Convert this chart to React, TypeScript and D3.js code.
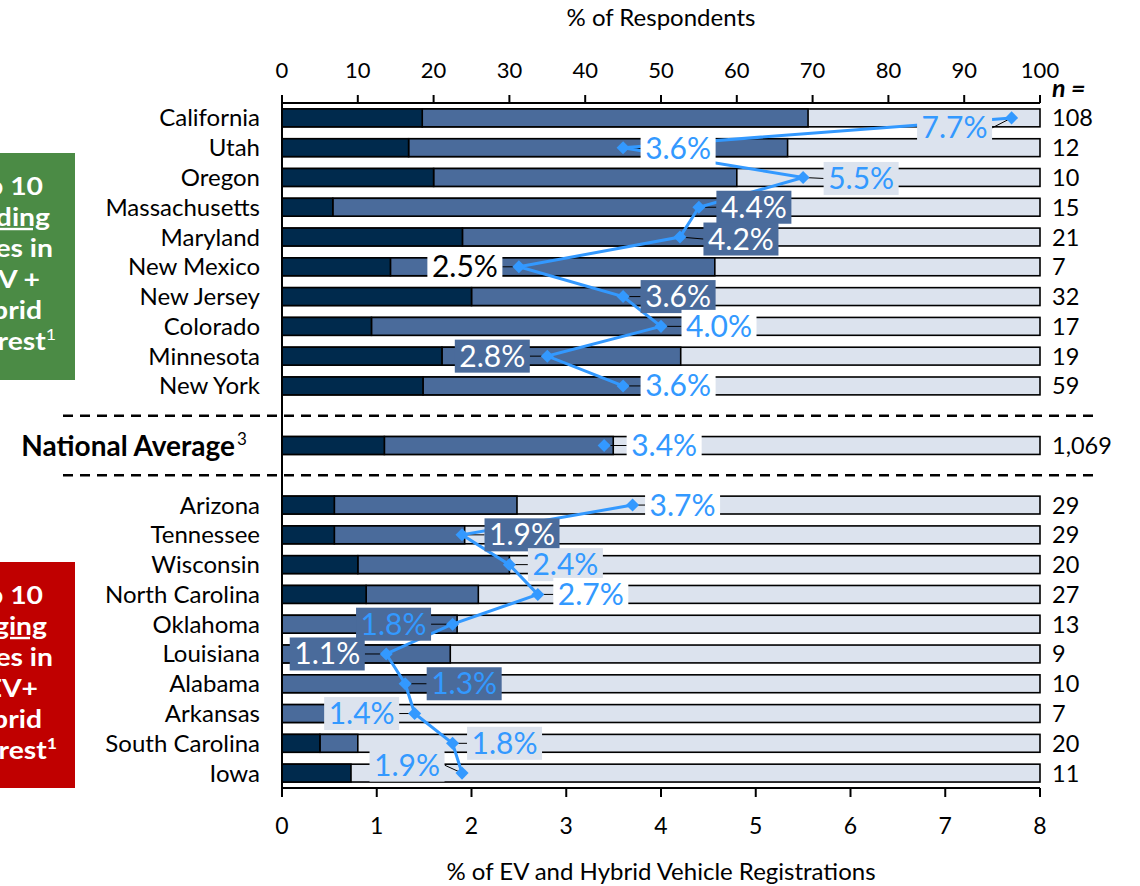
import React from "react";
import * as d3 from "d3";

const topStates = ["California","Utah","Oregon","Massachusetts","Maryland","New Mexico","New Jersey","Colorado","Minnesota","New York"];
const bottomStates = ["Arizona","Tennessee","Wisconsin","North Carolina","Oklahoma","Louisiana","Alabama","Arkansas","South Carolina","Iowa"];
const nationalLabel = "National Average";

// % of respondents, three stacked shares (dark / medium / rest)
const topDark = [18.5, 16.7, 20.0, 6.7, 23.8, 14.3, 25.0, 11.8, 21.1, 18.6];
const topMedium = [50.9, 50.0, 40.0, 53.3, 38.1, 42.8, 28.1, 41.1, 31.5, 28.9];
const nationalDark = 13.5;
const nationalMedium = 30.2;
const bottomDark = [6.9, 6.9, 10.0, 11.1, 0, 0, 0, 0, 5.0, 9.1];
const bottomMedium = [24.1, 17.2, 20.0, 14.8, 23.1, 22.2, 20.0, 14.3, 5.0, 0];

// % of EV and hybrid vehicle registrations
const topEv = [7.7, 3.6, 5.5, 4.4, 4.2, 2.5, 3.6, 4.0, 2.8, 3.6];
const nationalEv = 3.4;
const bottomEv = [3.7, 1.9, 2.4, 2.7, 1.8, 1.1, 1.3, 1.4, 1.8, 1.9];

const topN = ["108","12","10","15","21","7","32","17","19","59"];
const nationalN = "1,069";
const bottomN = ["29","29","20","27","13","9","10","7","20","11"];

const pctTicks = [0,10,20,30,40,50,60,70,80,90,100];
const evTicks = [0,1,2,3,4,5,6,7,8];

// side panels (text lines, partly cut off by the page edge)
const leadingLines = ["Top 10", "Leading", "States in", "EV +", "Hybrid", "Interest"];
const laggingLines = ["Top 10", "Lagging", "States in", "EV+", "Hybrid", "Interest"];
const leadingRightEdges = [43, 50, 53, 40, 42, 56];
const laggingRightEdges = [43, 47, 53, 38, 42, 57];

// label layout: horizontal offset of box centre from marker, vertical offset, style
const topLabelLayout = [
  { dx: -57, dy: 10, s: "light" }, { dx: 55, dy: 1, s: "white" }, { dx: 58, dy: 1, s: "light" },
  { dx: 55, dy: 0, s: "medium" }, { dx: 61, dy: 2, s: "medium" }, { dx: -54, dy: 0, s: "black" },
  { dx: 55, dy: 0, s: "medium" }, { dx: 58, dy: 0, s: "white" }, { dx: -55, dy: 0, s: "medium" },
  { dx: 55, dy: 0, s: "white" },
];
const nationalLabelLayout = { dx: 60, dy: 0, s: "white" };
const bottomLabelLayout = [
  { dx: 50, dy: 0, s: "white" }, { dx: 60, dy: 0, s: "medium" }, { dx: 56, dy: 0, s: "light" },
  { dx: 53, dy: 0, s: "white" }, { dx: -59, dy: 0, s: "mediumBlue" }, { dx: -59, dy: 0, s: "medium" },
  { dx: 59, dy: 0, s: "mediumBlue" }, { dx: -53, dy: 0, s: "light" }, { dx: 52, dy: 0, s: "light" },
  { dx: -55, dy: -8, s: "light" },
];

const C = {
  dark: "#002A4D",
  medium: "#4A6B9B",
  light: "#DCE3EE",
  blue: "#3399FF",
  green: "#4B8B45",
  red: "#C00000",
};
const labelStyles: Record<string, { bg: string; fg: string }> = {
  light: { bg: C.light, fg: C.blue },
  white: { bg: "#FFFFFF", fg: C.blue },
  medium: { bg: C.medium, fg: "#FFFFFF" },
  mediumBlue: { bg: C.medium, fg: C.blue },
  black: { bg: "#FFFFFF", fg: "#000000" },
};

const FONT = "Lato, 'Open Sans', sans-serif";

export default function App() {
  const W = 1140, H = 886;
  const slots = [...topStates, "gap1", nationalLabel, "gap2", ...bottomStates];
  const y = d3.scaleBand<string>().domain(slots).range([103, 788]).paddingInner(0.4).paddingOuter(0.2);
  const xP = d3.scaleLinear().domain([0, 100]).range([282, 1040]);
  const xE = d3.scaleLinear().domain([0, 8]).range([282, 1040]);
  const bw = y.bandwidth();
  const cy = (k: string) => (y(k) as number) + bw / 2;

  const rows = [
    ...topStates.map((s, i) => ({ name: s, dark: topDark[i], med: topMedium[i], ev: topEv[i], n: topN[i], lab: topLabelLayout[i], group: "top" })),
    { name: nationalLabel, dark: nationalDark, med: nationalMedium, ev: nationalEv, n: nationalN, lab: nationalLabelLayout, group: "nat" },
    ...bottomStates.map((s, i) => ({ name: s, dark: bottomDark[i], med: bottomMedium[i], ev: bottomEv[i], n: bottomN[i], lab: bottomLabelLayout[i], group: "bot" })),
  ];

  const line = d3.line<any>().x(d => xE(d.ev)).y(d => cy(d.name));
  const diamond = d3.symbol().type(d3.symbolSquare).size(85);
  const boxW = 75, boxH = 33;

  const sideBox = (y0: number, h: number, fill: string, lines: string[], edges: number[], supBold: boolean) => (
    <g>
      <rect x={0} y={y0} width={75} height={h} fill={fill} />
      {lines.map((t, i) => (
        <text key={i} transform={`translate(${edges[i]},${y0 + 42 + i * 31}) scale(1.18,1)`} textAnchor="end" fill="#fff" fontFamily={FONT}
          fontWeight={700} fontSize={24} textDecoration={i === 1 ? "underline" : undefined}>
          {t}
          {i === 5 && <tspan fontSize={15} dy={-10} fontWeight={supBold ? 700 : 400}>1</tspan>}
        </text>
      ))}
    </g>
  );

  return (
    <svg width={W} height={H} style={{ display: "block", position: "absolute", left: 0, top: 0, background: "#fff" }}>
      {/* titles */}
      <text x={661} y={26} textAnchor="middle" fontFamily={FONT} fontSize={24} fill="#000">% of Respondents</text>
      <text x={661} y={880} textAnchor="middle" fontFamily={FONT} fontSize={24} fill="#000">% of EV and Hybrid Vehicle Registrations</text>

      {/* side panels */}
      {sideBox(153, 227, C.green, leadingLines, leadingRightEdges, false)}
      {sideBox(562, 226, C.red, laggingLines, laggingRightEdges, true)}

      {/* bars */}
      {rows.map(r => {
        const yy = y(r.name) as number;
        return (
          <g key={r.name}>
            <rect x={xP(0)} y={yy} width={xP(100) - xP(0)} height={bw} fill={C.light} stroke="#000" strokeWidth={1.6} />
            {r.med > 0 && <rect x={xP(r.dark)} y={yy} width={xP(r.dark + r.med) - xP(r.dark)} height={bw} fill={C.medium} stroke="#000" strokeWidth={1.6} />}
            {r.dark > 0 && <rect x={xP(0)} y={yy} width={xP(r.dark) - xP(0)} height={bw} fill={C.dark} stroke="#000" strokeWidth={1.6} />}
          </g>
        );
      })}

      {/* dashed separators */}
      {["gap1", "gap2"].map(g => (
        <line key={g} x1={63} x2={1100} y1={cy(g)} y2={cy(g)} stroke="#000" strokeWidth={2.5} strokeDasharray="10,7" />
      ))}

      {/* top axis */}
      <line x1={xP(0)} x2={xP(100)} y1={103} y2={103} stroke="#000" strokeWidth={2} />
      {pctTicks.map(t => (
        <g key={t}>
          <line x1={xP(t)} x2={xP(t)} y1={95} y2={103} stroke="#000" strokeWidth={2} />
          <text x={xP(t)} y={78} textAnchor="middle" fontFamily={FONT} fontSize={22} fill="#000">{t}</text>
        </g>
      ))}
      {/* bottom axis */}
      <line x1={xE(0)} x2={xE(8)} y1={788} y2={788} stroke="#000" strokeWidth={2} />
      {evTicks.map(t => (
        <g key={t}>
          <line x1={xE(t)} x2={xE(t)} y1={788} y2={797} stroke="#000" strokeWidth={2} />
          <text x={xE(t)} y={834} textAnchor="middle" fontFamily={FONT} fontSize={23} fill="#000">{t}</text>
        </g>
      ))}
      {/* left axis */}
      <line x1={xP(0)} x2={xP(0)} y1={95} y2={797} stroke="#000" strokeWidth={2} />

      {/* category labels */}
      {rows.map(r => r.group === "nat" ? (
        <text key={r.name} x={235} y={cy(r.name) + 10} textAnchor="end" fontFamily={FONT} fontWeight={700} fontSize={28} fill="#000">
          {r.name}
        </text>
      ) : (
        <text key={r.name} x={260} y={cy(r.name) + 8.5} textAnchor="end" fontFamily={FONT} fontSize={24} fill="#000">{r.name}</text>
      ))}
      <text x={237} y={cy(nationalLabel) - 1} fontFamily={FONT} fontSize={17} fill="#000">3</text>

      {/* n values */}
      <text x={1052} y={97} fontFamily={FONT} fontWeight={700} fontStyle="italic" fontSize={25} fill="#000">n =</text>
      {rows.map(r => (
        <text key={r.name} x={1052} y={cy(r.name) + 8.5} fontFamily={FONT} fontSize={23.5} fill="#000">{r.n}</text>
      ))}

      {/* leader lines */}
      {rows.map(r => {
        const mx = xE(r.ev), my = cy(r.name);
        const bx = r.lab.dx > 0 ? mx + r.lab.dx - boxW / 2 : mx + r.lab.dx + boxW / 2;
        return <line key={r.name} x1={mx} y1={my} x2={bx} y2={my + r.lab.dy} stroke="#000" strokeWidth={1} />;
      })}

      {/* EV line */}
      <path d={line(rows.filter(r => r.group === "top")) || ""} fill="none" stroke={C.blue} strokeWidth={3} />
      <path d={line(rows.filter(r => r.group === "bot")) || ""} fill="none" stroke={C.blue} strokeWidth={3} />
      {rows.map(r => (
        <path key={r.name} d={diamond() || ""} transform={`translate(${xE(r.ev)},${cy(r.name)}) rotate(45)`} fill={C.blue} />
      ))}

      {/* data labels */}
      {rows.map(r => {
        const st = labelStyles[r.lab.s];
        const lx = xE(r.ev) + r.lab.dx, ly = cy(r.name) + r.lab.dy;
        return (
          <g key={r.name}>
            <rect x={lx - boxW / 2} y={ly - boxH / 2} width={boxW} height={boxH} fill={st.bg} />
            <text x={lx} y={ly + 10.5} textAnchor="middle" fontFamily={FONT} fontSize={30} fill={st.fg}>{r.ev.toFixed(1)}%</text>
          </g>
        );
      })}
    </svg>
  );
}
